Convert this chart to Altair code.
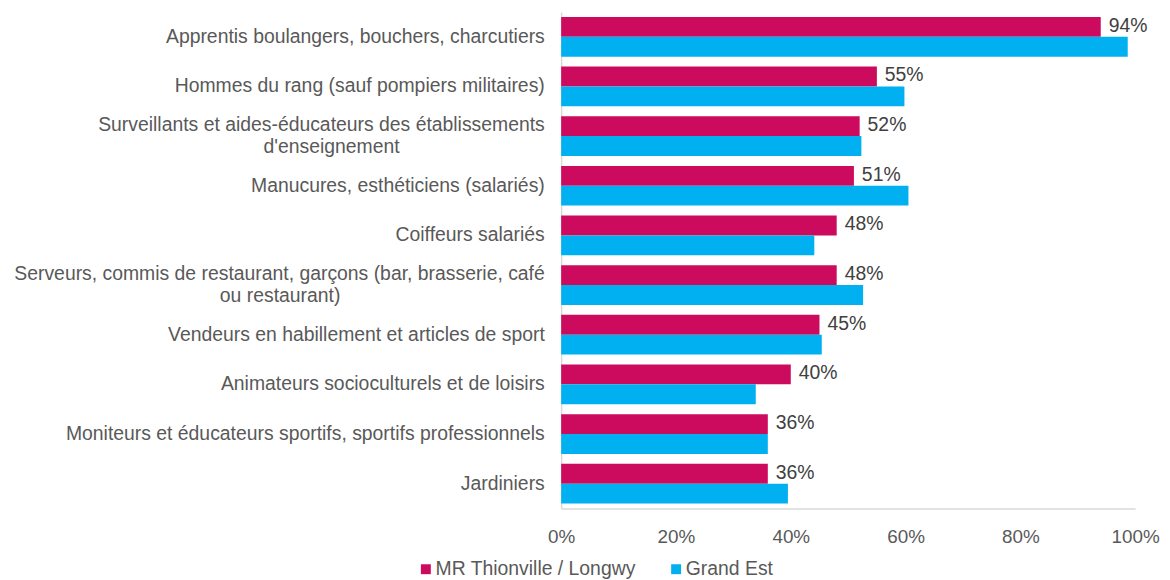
import altair as alt
import pandas as pd

NB = "\u00a0"
ZW = "\u200b"
categories = [
    "Apprentis boulangers, bouchers, charcutiers",
    "Hommes du rang (sauf pompiers militaires)",
    "Surveillants et aides-éducateurs des établissements|d'enseignement",
    "Manucures, esthéticiens (salariés)",
    "Coiffeurs salariés",
    "Serveurs, commis de restaurant, garçons (bar, brasserie, café|ou restaurant)",
    "Vendeurs en habillement et articles de sport",
    "Animateurs socioculturels et de loisirs",
    "Moniteurs et éducateurs sportifs, sportifs professionnels",
    "Jardiniers",
]
# trailing non-breaking spaces so that second lines sit centred under first lines
second_line_pad = {
    categories[2]: 27,
    categories[5]: 38,
}
mr_values = [94, 55, 52, 51, 48, 48, 45, 40, 36, 36]
ge_values = [98.7, 59.8, 52.3, 60.5, 44.1, 52.6, 45.4, 33.9, 36.0, 39.5]
series = ["MR Thionville / Longwy", "Grand Est"]
colors = ["#CC0A5E", "#00B0F0"]
x_ticks = [0, 20, 40, 60, 80, 100]

rows = []
for c, m, g in zip(categories, mr_values, ge_values):
    rows.append({"cat": c, "series": series[0], "value": m})
    rows.append({"cat": c, "series": series[1], "value": g})
df = pd.DataFrame(rows)

FONT = "Liberation Sans"
GREY = "#595959"
FS = 19.5


def q(s):
    return "'" + s.replace("'", "\\'") + "'"


# label expression mapping categories to displayed (multi-line) labels
label_expr = "datum.value"
for c in reversed(categories):
    if "|" in c:
        l1, l2 = c.split("|")
        l2 = l2 + NB * second_line_pad[c] + ZW
        label_expr = f"datum.value === {q(c)} ? [{q(l1)}, {q(l2)}] : ({label_expr})"

y_enc = alt.Y("cat:N", sort=categories,
              scale=alt.Scale(domain=categories, paddingInner=0.2, paddingOuter=0.1),
              axis=alt.Axis(title=None, ticks=False, domainColor="#D9D9D9", domainWidth=1.5,
                            labelFont=FONT, labelFontSize=FS, labelColor=GREY,
                            labelPadding=17, labelLimit=0, labelLineHeight=22,
                            labelOffset={"condition": {"test": "indexof(datum.value, '|') >= 0",
                                                       "value": -11}, "value": 0},
                            labelExpr=label_expr))
yoff = alt.YOffset("series:N", sort=series, scale=alt.Scale(domain=series))
x_enc = alt.X("value:Q", scale=alt.Scale(domain=[0, 100], nice=False),
              axis=alt.Axis(title=None, values=x_ticks, ticks=False, grid=False,
                            domainColor="#D9D9D9", domainWidth=1.5, labelFlush=False,
                            labelFont=FONT, labelFontSize=19, labelColor=GREY,
                            labelPadding=19, labelExpr="datum.value + '%'"))

bars = alt.Chart(df).mark_bar().encode(
    y=y_enc, yOffset=yoff, x=x_enc,
    color=alt.Color("series:N", sort=series,
                    scale=alt.Scale(domain=series, range=colors),
                    legend=alt.Legend(title=None, orient="none", direction="horizontal",
                                      legendX=-146, legendY=551, symbolType="square",
                                      symbolSize=100, symbolStrokeWidth=0,
                                      labelFont=FONT, labelFontSize=FS, labelColor=GREY,
                                      labelLimit=0, labelOffset=0, columnPadding=30)),
)

labels = alt.Chart(df).transform_filter(
    alt.datum.series == series[0]
).transform_calculate(
    label="datum.value + '%'"
).mark_text(align="left", baseline="middle", dx=8, dy=-1, font=FONT, fontSize=FS,
            color="#404040").encode(
    y=alt.Y("cat:N", sort=categories), yOffset=yoff, x="value:Q",
    text=alt.Text("label:N"),
)

chart = alt.layer(bars, labels).properties(
    width=578, height=500,
    autosize=alt.AutoSizeParams(type="none"),
    padding={"left": 557, "top": 2, "right": 27, "bottom": 70},
).configure_view(stroke=None)

chart.save("out.html", embed_options={"renderer": "svg", "actions": False})
